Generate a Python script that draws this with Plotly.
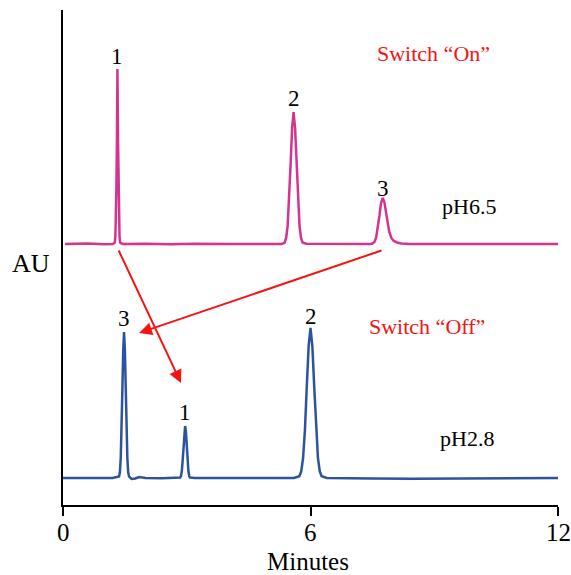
import plotly.graph_objects as go

# Chromatogram at pH 6.5 (Switch "On"), offset upward; arbitrary units
ph65_time = [0.05, 0.6, 1.0, 1.2, 1.245, 1.258, 1.27, 1.283, 1.295, 1.308, 1.32, 1.333, 1.345, 1.358, 1.37, 1.383, 1.395,
             1.45, 2.0, 2.6, 3.2, 4.0, 4.8, 5.3, 5.374, 5.41, 5.446, 5.482, 5.518, 5.554, 5.59, 5.626, 5.662, 5.698,
             5.734, 5.77, 5.806, 5.9, 6.5, 7.0, 7.45, 7.5, 7.55, 7.59, 7.63, 7.67, 7.71, 7.75, 7.79, 7.83, 7.87, 7.91,
             7.96, 8.02, 8.1, 8.2, 8.4, 9.0, 10.0, 11.0, 12.0]
ph65_signal = [261, 261.5, 260.8, 261, 262, 263, 269, 285, 317, 368, 436, 368, 317, 285, 269, 263, 262,
               261, 261.3, 260.7, 261.2, 261, 261.3, 261, 262.5, 267, 279, 304, 341, 377, 393, 377, 341, 304,
               279, 267, 262.5, 261.2, 261, 261.3, 261, 261.5, 263, 267, 276, 289, 302, 307, 303, 292, 281, 273,
               267, 264, 262.5, 261.5, 261, 261.2, 261, 261, 261]

# Chromatogram at pH 2.8 (Switch "Off")
ph28_time = [0.0, 0.6, 1.2, 1.36, 1.38, 1.40, 1.42, 1.44, 1.46, 1.48, 1.50, 1.52, 1.54, 1.56, 1.58, 1.60,
             1.66, 1.75, 1.85, 1.92, 2.0, 2.4, 2.8, 2.84, 2.86, 2.88, 2.90, 2.92, 2.94, 2.96, 2.98, 3.00, 3.02,
             3.04, 3.06, 3.08, 3.2, 4.0, 5.0, 5.6, 5.73, 5.775, 5.82, 5.865, 5.91, 5.955, 6.0, 6.045, 6.09,
             6.135, 6.18, 6.225, 6.27, 6.4, 7.0, 7.5, 8.5, 9.5, 10.5, 12.0]
ph28_signal = [27, 27.2, 27, 28.5, 33, 47, 74, 116, 155, 173, 155, 116, 74, 47, 33, 28.5,
               26, 26.5, 28, 27.5, 27, 26.8, 27, 27.5, 29, 34, 44, 59, 73, 79, 73, 59, 44,
               34, 29, 27.5, 27, 27.2, 27, 27, 28.7, 33.6, 47, 75, 118.5, 159, 177, 159, 118.5,
               75, 47, 33.6, 28.7, 27, 27, 26.6, 26.2, 26.4, 26.8, 27]

peak_labels = ["1", "2", "3", "3", "1", "2"]
peak_label_x = [1.31, 5.59, 7.75, 1.48, 2.96, 6.0]
peak_label_y = [449, 407, 317, 187, 93, 189]
x_ticks = [0, 6, 12]

MAGENTA = "#D6338F"
BLUE = "#2B53A1"
RED = "#F41414"
FONT = "Liberation Serif, Times New Roman, serif"

L, R, T, B = 63, 558, 10, 505  # plot area in pixels


def px_x(p):
    return (p - L) / (R - L) * 12


def px_y(p):
    return B - p


def paper_x(p):
    return (p - L) / (R - L)


def paper_y(p):
    return (B - p) / (B - T)


fig = go.Figure()
fig.add_trace(go.Scatter(x=ph65_time, y=ph65_signal, mode="lines",
                         line=dict(color=MAGENTA, width=2.5), showlegend=False))
fig.add_trace(go.Scatter(x=ph28_time, y=ph28_signal, mode="lines",
                         line=dict(color=BLUE, width=2.5), showlegend=False))

ann = []
for t, x, y in zip(peak_labels, peak_label_x, peak_label_y):
    ann.append(dict(x=x, y=y, text=t, showarrow=False, font=dict(size=23, color="black", family=FONT),
                    xanchor="center", yanchor="middle"))

# x tick labels
for v in x_ticks:
    ann.append(dict(x=v, xref="x", yref="paper", y=paper_y(532), text=str(v), showarrow=False,
                    xanchor="center", yanchor="middle", font=dict(size=25, color="black", family=FONT)))

ann += [
    dict(x=px_x(433), y=px_y(53), text="Switch \u201cOn\u201d", showarrow=False,
         font=dict(size=22, color=RED, family=FONT)),
    dict(x=px_x(469), y=px_y(206), text="pH6.5", showarrow=False,
         font=dict(size=22, color="black", family=FONT)),
    dict(x=px_x(427), y=px_y(326), text="Switch \u201cOff\u201d", showarrow=False,
         font=dict(size=22, color=RED, family=FONT)),
    dict(x=px_x(467), y=px_y(438), text="pH2.8", showarrow=False,
         font=dict(size=22, color="black", family=FONT)),
    dict(xref="paper", yref="paper", x=paper_x(31), y=paper_y(263), text="AU", showarrow=False,
         xanchor="center", yanchor="middle", font=dict(size=26, color="black", family=FONT)),
    dict(xref="paper", yref="paper", x=paper_x(308), y=paper_y(561), text="Minutes", showarrow=False,
         xanchor="center", yanchor="middle", font=dict(size=25, color="black", family=FONT)),
    # arrows
    dict(x=px_x(181), y=px_y(383), ax=px_x(118), ay=px_y(249), xref="x", yref="y", axref="x", ayref="y",
         showarrow=True, arrowhead=2, arrowsize=1.3, arrowwidth=2, arrowcolor=RED, text="", standoff=0),
    dict(x=px_x(139), y=px_y(333), ax=px_x(383), ay=px_y(250), xref="x", yref="y", axref="x", ayref="y",
         showarrow=True, arrowhead=2, arrowsize=1.3, arrowwidth=2, arrowcolor=RED, text="", standoff=0),
]

fig.update_layout(
    width=571, height=575,
    margin=dict(l=L, r=571 - R, t=T, b=575 - B),
    paper_bgcolor="white", plot_bgcolor="white",
    annotations=ann,
    font=dict(family=FONT, color="black"),
    xaxis=dict(range=[0, 12], tickvals=x_ticks, showticklabels=False, ticks="outside", ticklen=9,
               tickwidth=1.5, tickcolor="black", showline=True, linecolor="black", linewidth=1.5,
               showgrid=False, zeroline=False, automargin=False),
    yaxis=dict(range=[0, 495], showticklabels=False, ticks="", showline=True, linecolor="black",
               linewidth=1.5, showgrid=False, zeroline=False, automargin=False),
)

fig.write_html("out.html")
